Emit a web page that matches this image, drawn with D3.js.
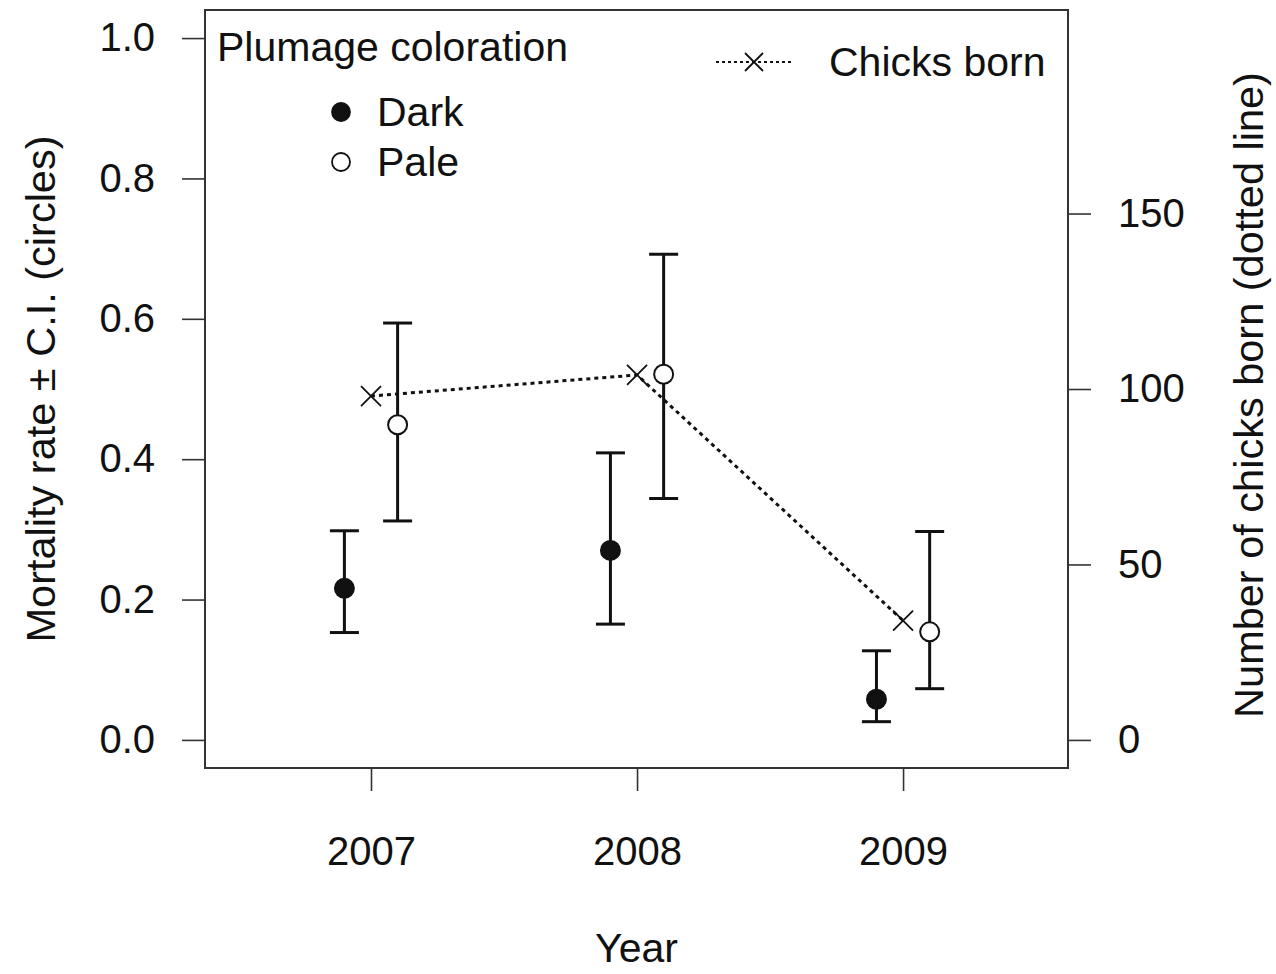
<!DOCTYPE html>
<html>
<head>
<meta charset="utf-8">
<script src="https://cdn.jsdelivr.net/npm/d3@7"></script>
<style>
  body { margin: 0; background: #fff; }
  svg text { font-family: "Liberation Sans", Arial, Helvetica, sans-serif; fill: #111; }
  .axis line { stroke: #333; stroke-width: 1.6; }
  .axis path { display: none; }
  .axis text { font-size: 40px; }
</style>
</head>
<body>
<div id="chart"></div>
<script>
// data
const years = [2007, 2008, 2009];
const darkRate = [0.216, 0.270, 0.058];
const darkLow  = [0.153, 0.165, 0.026];
const darkHigh = [0.298, 0.409, 0.127];
const paleRate = [0.449, 0.521, 0.154];
const paleLow  = [0.312, 0.344, 0.073];
const paleHigh = [0.594, 0.692, 0.297];
const chicksBorn = [98, 104, 34];
const leftTicks = [0, 0.2, 0.4, 0.6, 0.8, 1.0];
const rightTicks = [0, 50, 100, 150];

const W = 1276, H = 974;
const box = {left: 205, right: 1068, top: 10, bottom: 768};

const svg = d3.select("#chart").append("svg")
    .attr("width", W)
    .attr("height", H);

// scales
const x = d3.scaleLinear()
    .domain([2006.376, 2009.62])
    .range([box.left, box.right]);

const yRate = d3.scaleLinear()
    .domain([-0.04, 1.04])
    .range([box.bottom, box.top]);

const yChicks = d3.scaleLinear()
    .domain([-8, 208])
    .range([box.bottom, box.top]);

const offset = 0.1;

// axes
svg.append("g")
    .attr("class", "axis")
    .attr("transform", "translate(" + box.left + ",0)")
    .call(d3.axisLeft(yRate).tickValues(leftTicks).tickFormat(d3.format(".1f"))
        .tickSizeInner(23).tickSizeOuter(0).tickPadding(27));

svg.append("g")
    .attr("class", "axis")
    .attr("transform", "translate(" + box.right + ",0)")
    .call(d3.axisRight(yChicks).tickValues(rightTicks).tickFormat(d3.format("d"))
        .tickSizeInner(23).tickSizeOuter(0).tickPadding(27));

svg.append("g")
    .attr("class", "axis")
    .attr("transform", "translate(0," + box.bottom + ")")
    .call(d3.axisBottom(x).tickValues(years).tickFormat(d3.format("d"))
        .tickSizeInner(23).tickSizeOuter(0).tickPadding(46));

// plot box
svg.append("rect")
    .attr("x", box.left)
    .attr("y", box.top)
    .attr("width", box.right - box.left)
    .attr("height", box.bottom - box.top)
    .attr("fill", "none")
    .attr("stroke", "#333")
    .attr("stroke-width", 2);

// axis titles
svg.append("text")
    .attr("transform", "translate(40," + ((box.top + box.bottom) / 2) + ") rotate(-90)")
    .attr("text-anchor", "middle")
    .attr("dominant-baseline", "central")
    .style("font-size", "41.5px")
    .text("Mortality rate ± C.I. (circles)");

svg.append("text")
    .attr("transform", "translate(1248," + (((box.top + box.bottom) / 2) + 6) + ") rotate(-90)")
    .attr("text-anchor", "middle")
    .attr("dominant-baseline", "central")
    .style("font-size", "41.5px")
    .text("Number of chicks born (dotted line)");

svg.append("text")
    .attr("x", (box.left + box.right) / 2)
    .attr("y", 962)
    .attr("text-anchor", "middle")
    .style("font-size", "41px")
    .text("Year");

// chicks born line
const chickLine = d3.line()
    .x((d, i) => x(years[i]))
    .y(d => yChicks(d));

svg.append("path")
    .datum(chicksBorn)
    .attr("d", chickLine)
    .attr("fill", "none")
    .attr("stroke", "#111")
    .attr("stroke-width", 3)
    .attr("stroke-dasharray", "4,4");

function cross(g, cx, cy, s) {
    g.append("path")
        .attr("d", "M" + (cx - s) + "," + (cy - s) + "L" + (cx + s) + "," + (cy + s) +
                   "M" + (cx - s) + "," + (cy + s) + "L" + (cx + s) + "," + (cy - s))
        .attr("stroke", "#111")
        .attr("stroke-width", 1.8)
        .attr("fill", "none");
}

const crosses = svg.append("g");
chicksBorn.forEach((d, i) => cross(crosses, x(years[i]), yChicks(d), 10));

// error bars + points
const groups = [
    {rate: darkRate, low: darkLow, high: darkHigh, shift: -offset, fill: "#111"},
    {rate: paleRate, low: paleLow, high: paleHigh, shift: offset, fill: "#fff"}
];

groups.forEach(grp => {
    const g = svg.append("g");
    years.forEach((yr, i) => {
        const cx = x(yr + grp.shift);
        g.append("line")
            .attr("x1", cx).attr("x2", cx)
            .attr("y1", yRate(grp.low[i])).attr("y2", yRate(grp.high[i]))
            .attr("stroke", "#111").attr("stroke-width", 3);
        [grp.low[i], grp.high[i]].forEach(v => {
            g.append("line")
                .attr("x1", cx - 14.5).attr("x2", cx + 14.5)
                .attr("y1", yRate(v)).attr("y2", yRate(v))
                .attr("stroke", "#111").attr("stroke-width", 3);
        });
        g.append("circle")
            .attr("cx", cx)
            .attr("cy", yRate(grp.rate[i]))
            .attr("r", 9.5)
            .attr("fill", grp.fill)
            .attr("stroke", "#111")
            .attr("stroke-width", 2);
    });
});

// legend: plumage
const leg = svg.append("g");
leg.append("text")
    .attr("x", 217).attr("y", 61)
    .style("font-size", "41px")
    .text("Plumage coloration");

[["Dark", "#111", 112], ["Pale", "#fff", 162]].forEach(item => {
    leg.append("circle")
        .attr("cx", 341).attr("cy", item[2]).attr("r", 9)
        .attr("fill", item[1]).attr("stroke", "#111").attr("stroke-width", 1.8);
    leg.append("text")
        .attr("x", 377).attr("y", item[2])
        .attr("dominant-baseline", "central")
        .style("font-size", "41px")
        .text(item[0]);
});

// legend: chicks
leg.append("line")
    .attr("x1", 716).attr("x2", 792)
    .attr("y1", 62).attr("y2", 62)
    .attr("stroke", "#111").attr("stroke-width", 2)
    .attr("stroke-dasharray", "3,3");
cross(leg, 754, 62, 9);
leg.append("text")
    .attr("x", 829).attr("y", 62)
    .attr("dominant-baseline", "central")
    .style("font-size", "41px")
    .text("Chicks born");
</script>
</body>
</html>
